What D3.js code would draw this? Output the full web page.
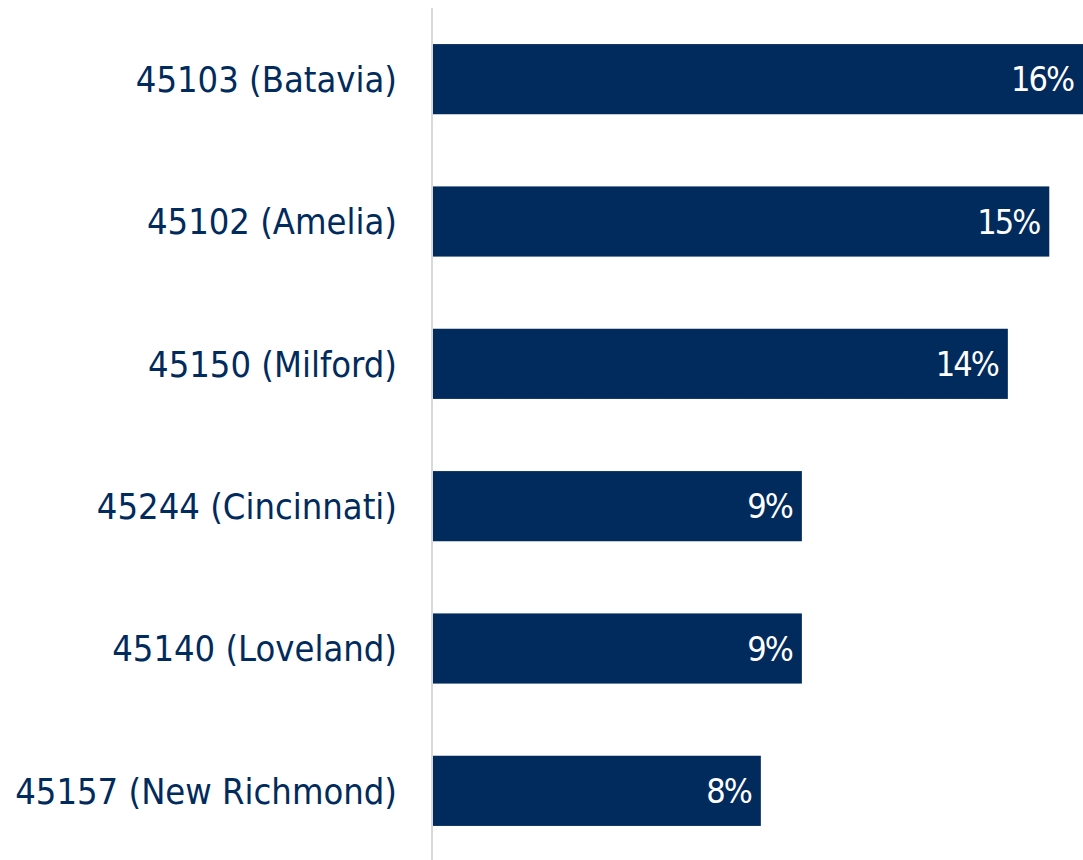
<!DOCTYPE html>
<html>
<head>
<script src="https://cdn.jsdelivr.net/npm/d3@7"></script>
<style>
  body { margin: 0; background: #fff; }
</style>
</head>
<body>
<script>
  var w = 1083, h = 860;

  // categories and values (percent)
  var zipCodes = ["45103 (Batavia)", "45102 (Amelia)", "45150 (Milford)",
                  "45244 (Cincinnati)", "45140 (Loveland)", "45157 (New Richmond)"];
  var shares = [16.0, 15.17, 14.15, 9.08, 9.08, 8.07];
  var shareLabels = ["16%", "15%", "14%", "9%", "9%", "8%"];

  var data = zipCodes.map((z, i) => ({ zip: z, value: shares[i], label: shareLabels[i] }));

  var svg = d3.select("body").append("svg")
              .attr("width", w)
              .attr("height", h);

  var x0 = 433;
  var x = d3.scaleLinear().domain([0, 16]).range([x0, w]);
  var y = d3.scaleBand().domain(zipCodes).range([8, 862]).paddingInner(0.507).paddingOuter(0.2535);

  var font = "'DejaVu Sans Condensed', 'DejaVu Sans', sans-serif";

  // bars
  svg.selectAll("rect.bar")
     .data(data)
     .enter()
     .append("rect")
     .attr("class", "bar")
     .attr("x", x(0))
     .attr("y", d => y(d.zip))
     .attr("width", d => x(d.value) - x(0))
     .attr("height", y.bandwidth())
     .attr("fill", "#002b5c");

  // category axis line
  svg.append("line")
     .attr("x1", 432).attr("x2", 432)
     .attr("y1", 8).attr("y2", h)
     .attr("stroke", "#d9d9d9")
     .attr("stroke-width", 2);

  // category labels
  svg.selectAll("text.cat")
     .data(data)
     .enter()
     .append("text")
     .attr("class", "cat")
     .attr("x", 397)
     .attr("y", d => y(d.zip) + y.bandwidth() / 2)
     .attr("dy", "0.36em")
     .attr("text-anchor", "end")
     .attr("font-family", font)
     .attr("font-size", "36px")
     .attr("fill", "#002b5c")
     .text(d => d.zip);

  // value labels
  svg.selectAll("text.val")
     .data(data)
     .enter()
     .append("text")
     .attr("class", "val")
     .attr("x", d => x(d.value) - 10)
     .attr("y", d => y(d.zip) + y.bandwidth() / 2)
     .attr("dy", "0.36em")
     .attr("text-anchor", "end")
     .attr("font-family", font)
     .attr("font-size", "34px")
     .attr("letter-spacing", "-2px")
     .attr("fill", "#ffffff")
     .text(d => d.label);
</script>
</body>
</html>
